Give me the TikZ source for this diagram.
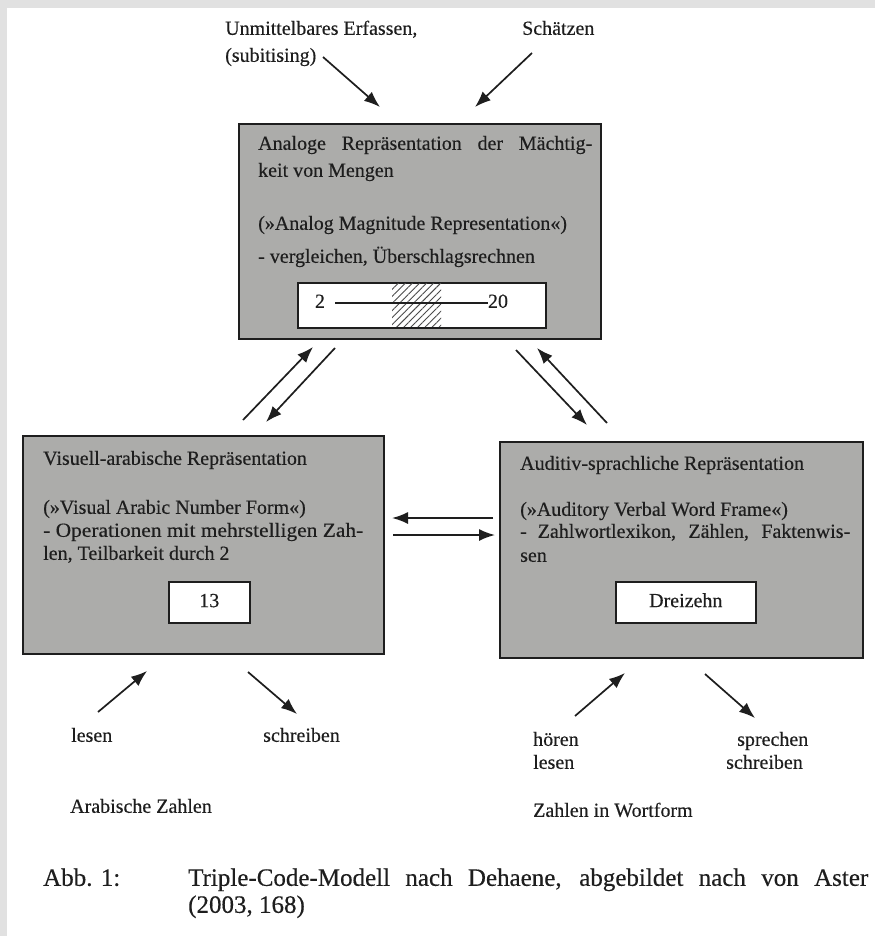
\documentclass[tikz,border=0pt]{standalone}
\usepackage{fontspec}
\usepackage{graphicx}
\setmainfont{Liberation Serif}[FakeBold=0.35]
\usetikzlibrary{arrows.meta,patterns.meta}
\definecolor{boxgray}{RGB}{172,172,170}
\definecolor{ink}{RGB}{30,30,30}
\definecolor{edgegray}{RGB}{225,225,225}
\begin{document}
\begin{tikzpicture}[x=1pt,y=-1pt,
  repbox/.style={draw=ink,line width=2pt,fill=boxgray,inner sep=0pt,anchor=north west},
  whitebox/.style={draw=ink,line width=1.6pt,fill=white,inner sep=0pt,anchor=north west},
  txt/.style={inner sep=0pt,anchor=west,font=\fontsize{20}{24}\selectfont,text=ink,execute at begin node=\strut},
  captxt/.style={inner sep=0pt,anchor=west,font=\fontsize{25}{29}\selectfont,text=ink,execute at begin node=\strut},
  arr/.style={draw=ink,line width=1.7pt,-{Latex[length=16pt,width=12pt]}},
]
\useasboundingbox (0,0) rectangle (875,936);
\fill[white] (0,0) rectangle (875,936);
\fill[edgegray] (0,0) rectangle (875,8);
\fill[edgegray] (0,0) rectangle (7,936);

% ---------- top box ----------
\node[repbox,minimum width=362pt,minimum height=215pt] (amr) at (238,123) {};
\node[txt] (amr1) at (258,145) {\makebox[334pt][s]{Analoge Repräsentation der Mächtig-}};
\node[txt] (amr2) at (258,172) {keit von Mengen};
\node[txt] (amr3) at (258,225) {(»Analog Magnitude Representation«)};
\node[txt] (amr4) at (258,258) {- vergleichen, Überschlagsrechnen};
\node[whitebox,minimum width=248pt,minimum height=45pt] (scale) at (297,282) {};
\fill[pattern={Lines[angle=45,distance=5pt,line width=0.9pt]},pattern color=ink!80] (392,283) rectangle (441,326);
\node[txt,anchor=center] (n2) at (320,303) {2};
\node[txt,anchor=center] (n20) at (498,303) {20};
\draw[ink,line width=1.3pt] (n2.east)+(10pt,0) -- (n20.west);

% ---------- left box ----------
\node[repbox,minimum width=361pt,minimum height=218pt] (van) at (22,435) {};
\node[txt] (van1) at (43,460) {Visuell-arabische Repräsentation};
\node[txt] (van2) at (43,509) {(»Visual Arabic Number Form«)};
\node[txt] (van3) at (43,532) {\resizebox{320pt}{\height}{- Operationen mit mehrstelligen Zah-}};
\node[txt] (van4) at (43,555) {len, Teilbarkeit durch 2};
\node[whitebox,minimum width=81pt,minimum height=41pt] (b13) at (168,581) {};
\node[txt,anchor=center] (t13) at (b13.center) {13};

% ---------- right box ----------
\node[repbox,minimum width=363pt,minimum height=216pt] (avw) at (499,441) {};
\node[txt] (avw1) at (520,465) {Auditiv-sprachliche Repräsentation};
\node[txt] (avw2) at (520,511) {(»Auditory Verbal Word Frame«)};
\node[txt] (avw3) at (520,533) {\makebox[330pt][s]{- Zahlwortlexikon, Zählen, Faktenwis-}};
\node[txt] (avw4) at (520,557) {sen};
\node[whitebox,minimum width=140pt,minimum height=41pt] (bdz) at (615,581) {};
\node[txt,anchor=center] (tdz) at (bdz.center) {Dreizehn};

% ---------- outer labels ----------
\node[txt] (subit1) at (225,30) {Unmittelbares Erfassen,};
\node[txt] (subit2) at (225,57) {(subitising)};
\node[txt] (schaetz) at (522,30) {Schätzen};
\node[txt] (lesenL) at (71,737) {lesen};
\node[txt] (schreibL) at (263,737) {schreiben};
\node[txt] (arabz) at (70,808) {Arabische Zahlen};
\node[txt] (hoeren) at (533,741) {hören};
\node[txt] (lesenR) at (533,764) {lesen};
\node[txt] (sprech) at (737,741) {sprechen};
\node[txt] (schreibR) at (726,764) {schreiben};
\node[txt] (wortf) at (533,812) {Zahlen in Wortform};

% ---------- caption ----------
\node[captxt] (abb) at (43,880) {Abb. 1:};
\node[captxt] (cap1) at (188,880) {\makebox[680pt][s]{Triple-Code-Modell nach Dehaene, abgebildet nach von Aster}};
\node[captxt] (cap2) at (188,907) {(2003, 168)};

% ---------- arrow end points ----------
\coordinate (s1a) at (323,57);   \coordinate (s1b) at (380,107);
\coordinate (s2a) at (532,53);   \coordinate (s2b) at (475,107);
\coordinate (la1) at (243,420);  \coordinate (la2) at (313,347);
\coordinate (lb1) at (335,348);  \coordinate (lb2) at (266,422);
\coordinate (rc1) at (516,350);  \coordinate (rc2) at (587,425);
\coordinate (rd1) at (607,423);  \coordinate (rd2) at (537,348);
\coordinate (h1a) at (493,518);  \coordinate (h1b) at (392,518);
\coordinate (h2a) at (393,535);  \coordinate (h2b) at (495,535);
\coordinate (bl1) at (98,712);   \coordinate (bl2) at (147,671);
\coordinate (bs1) at (248,672);  \coordinate (bs2) at (297,714);
\coordinate (bh1) at (575,716);  \coordinate (bh2) at (625,673);
\coordinate (bp1) at (705,674);  \coordinate (bp2) at (755,718);

% ---------- arrows ----------
\draw[arr] (s1a) -- (s1b);
\draw[arr] (s2a) -- (s2b);
\draw[arr] (la1) -- (la2);
\draw[arr] (lb1) -- (lb2);
\draw[arr] (rc1) -- (rc2);
\draw[arr] (rd1) -- (rd2);
\draw[arr] (h1a) -- (h1b);
\draw[arr] (h2a) -- (h2b);
\draw[arr] (bl1) -- (bl2);
\draw[arr] (bs1) -- (bs2);
\draw[arr] (bh1) -- (bh2);
\draw[arr] (bp1) -- (bp2);
\end{tikzpicture}
\end{document}
